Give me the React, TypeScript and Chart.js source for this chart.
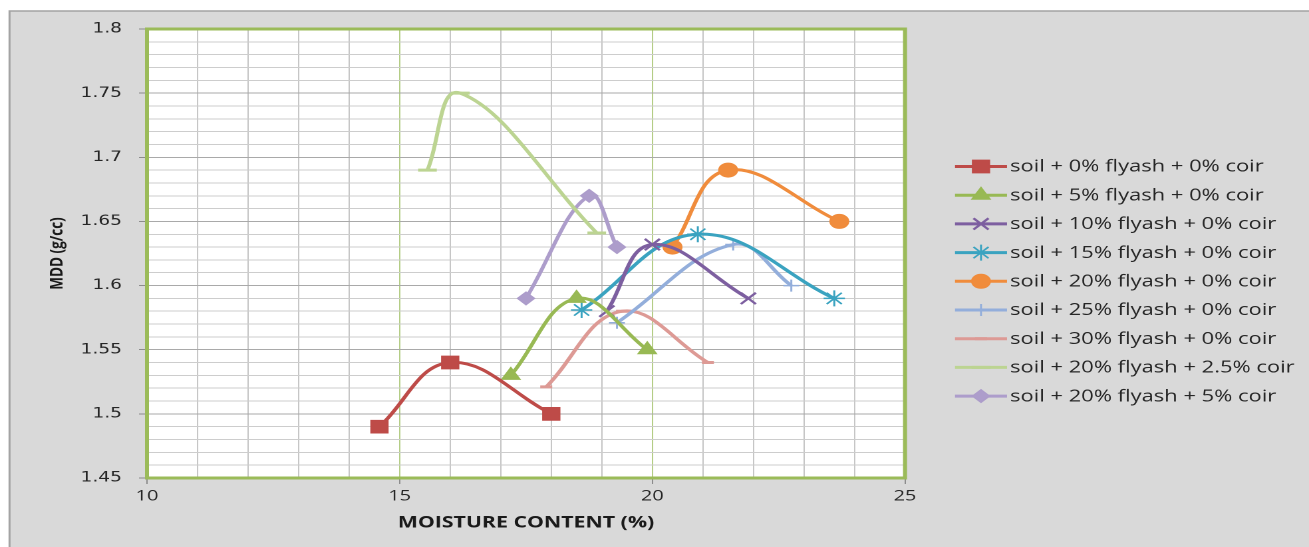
import React, { useEffect, useRef } from 'react';
import { Chart, registerables } from 'chart.js';
import { drawPoint } from 'chart.js/helpers';

Chart.register(...registerables);

// ---------------- data ----------------
const seriesLabels = [
  'soil + 0% flyash + 0% coir',
  'soil + 5% flyash + 0% coir',
  'soil + 10% flyash + 0% coir',
  'soil + 15% flyash + 0% coir',
  'soil + 20% flyash + 0% coir',
  'soil + 25% flyash + 0% coir',
  'soil + 30% flyash + 0% coir',
  'soil + 20% flyash + 2.5% coir',
  'soil + 20% flyash + 5% coir',
];

const fa0x = [14.6, 16.0, 18.0];
const fa0y = [1.49, 1.54, 1.5];
const fa5x = [17.2, 18.5, 19.9];
const fa5y = [1.53, 1.59, 1.55];
const fa10x = [19.1, 20.0, 21.9];
const fa10y = [1.58, 1.632, 1.59];
const fa15x = [18.6, 20.9, 23.6];
const fa15y = [1.581, 1.64, 1.59];
const fa20x = [20.4, 21.5, 23.7];
const fa20y = [1.63, 1.69, 1.65];
const fa25x = [19.3, 21.6, 22.75];
const fa25y = [1.571, 1.632, 1.6];
const fa30x = [17.9, 19.4, 21.1];
const fa30y = [1.521, 1.58, 1.54];
const coir25x = [15.55, 16.2, 18.9];
const coir25y = [1.69, 1.75, 1.641];
const coir5x = [17.5, 18.75, 19.3];
const coir5y = [1.59, 1.67, 1.63];

const seriesX = [fa0x, fa5x, fa10x, fa15x, fa20x, fa25x, fa30x, coir25x, coir5x];
const seriesY = [fa0y, fa5y, fa10y, fa15y, fa20y, fa25y, fa30y, coir25y, coir5y];

const xTickLabels = [10, 15, 20, 25];
const yTickLabels = [1.45, 1.5, 1.55, 1.6, 1.65, 1.7, 1.75, 1.8];
const xTitle = 'MOISTURE CONTENT (%)';
const yTitle = 'MDD (g/cc)';

// ---------------- styles ----------------
const seriesColors = [
  '#be4b48', '#98b954', '#7d5fa0', '#3aa3c0', '#f08c3c',
  '#93aedb', '#dd9a95', '#bcd492', '#ad9dcb',
];
const markerStyles = ['rect', 'triangle', 'crossRot', 'star', 'circle', 'cross', 'line', 'line', 'rectRot'];
const markerRadius = [9, 8, 8, 8, 7, 6, 4.5, 7, 6.5];
const markerBorder = [1, 1, 2, 1.5, 1, 1.5, 3, 3, 1];

const CANVAS_W = 1309;
const CANVAS_H = 547;
const STRETCH = 1.33;
const LOGICAL_W = Math.round(CANVAS_W / STRETCH);
const SX = CANVAS_W / LOGICAL_W;
const ux = (px: number) => px / SX;

const PLOT_LEFT = ux(147);
const PLOT_RIGHT = ux(905);
const PLOT_TOP = 29;
const PLOT_BOTTOM = 478;

const isMajor = (v: number, list: number[]) => list.some((t) => Math.abs(t - v) < 1e-6);

const decorPlugin = {
  id: 'decor',
  beforeDraw(chart: any) {
    const { ctx } = chart;
    ctx.save();
    ctx.fillStyle = '#ffffff';
    ctx.fillRect(0, 0, chart.width, chart.height);
    const fx = ux(9.5);
    const fy = 11;
    ctx.fillStyle = '#d9d9d9';
    ctx.fillRect(fx, fy, chart.width, chart.height);
    ctx.strokeStyle = '#a3a3a3';
    ctx.lineWidth = 1.5;
    ctx.beginPath();
    ctx.moveTo(fx, chart.height);
    ctx.lineTo(fx, fy);
    ctx.lineTo(chart.width, fy);
    ctx.stroke();
    const a = chart.chartArea;
    ctx.fillStyle = '#ffffff';
    ctx.fillRect(a.left, a.top, a.right - a.left, a.bottom - a.top);
    ctx.restore();
  },
  beforeDatasetsDraw(chart: any) {
    const { ctx } = chart;
    const a = chart.chartArea;
    ctx.save();
    ctx.strokeStyle = '#9bbb59';
    ctx.lineWidth = 3;
    ctx.strokeRect(a.left, a.top, a.right - a.left, a.bottom - a.top);
    ctx.restore();
  },
  afterDraw(chart: any) {
    const { ctx } = chart;
    ctx.save();
    const x0 = ux(955);
    const x1 = ux(1007);
    const xm = (x0 + x1) / 2;
    const tx = ux(1010);
    chart.data.datasets.forEach((ds: any, i: number) => {
      const y = 166.5 + i * 28.7;
      ctx.strokeStyle = ds.borderColor;
      ctx.lineWidth = 3;
      ctx.beginPath();
      ctx.moveTo(x0, y);
      ctx.lineTo(x1, y);
      ctx.stroke();
      ctx.fillStyle = ds.pointBackgroundColor;
      ctx.strokeStyle = ds.pointBorderColor;
      ctx.lineWidth = ds.pointBorderWidth;
      drawPoint(ctx, {
        pointStyle: ds.pointStyle,
        radius: ds.pointRadius,
        rotation: 0,
        borderWidth: ds.pointBorderWidth,
      } as any, xm, y);
      ctx.fillStyle = '#262626';
      ctx.font = "16.5px 'Open Sans', sans-serif";
      ctx.textAlign = 'left';
      ctx.textBaseline = 'middle';
      ctx.fillText(ds.label, tx, y + 0.5);
    });
    ctx.restore();
  },
};

export default function App() {
  const ref = useRef<HTMLCanvasElement>(null);

  useEffect(() => {
    const canvas = ref.current;
    if (!canvas) return;
    const datasets = seriesLabels.map((label, i) => ({
      label,
      data: seriesX[i].map((x, j) => ({ x, y: seriesY[i][j] })),
      showLine: true,
      tension: 0.4,
      borderColor: seriesColors[i],
      backgroundColor: seriesColors[i],
      borderWidth: 3,
      pointStyle: markerStyles[i],
      pointRadius: markerRadius[i],
      pointHoverRadius: markerRadius[i],
      pointBackgroundColor: seriesColors[i],
      pointBorderColor: seriesColors[i],
      pointBorderWidth: markerBorder[i],
    }));

    const chart = new Chart(canvas, {
      type: 'scatter',
      data: { datasets } as any,
      options: {
        animation: false,
        responsive: false,
        devicePixelRatio: 2,
        events: [],
        layout: {
          padding: { left: 0, top: PLOT_TOP, right: LOGICAL_W - PLOT_RIGHT, bottom: 0 },
        },
        plugins: {
          legend: { display: false },
          tooltip: { enabled: false },
        },
        scales: {
          x: {
            type: 'linear',
            min: 10,
            max: 25,
            afterFit: (s: any) => {
              s.height = CANVAS_H - PLOT_BOTTOM;
            },
            border: { display: false },
            grid: {
              color: (c: any) => (c.tick && c.tick.value % 5 === 0 ? '#b4cd86' : '#c6c6c6'),
              lineWidth: 1,
              tickLength: 6,
              tickColor: (c: any) => (c.tick && isMajor(c.tick.value, xTickLabels) ? '#8c8c8c' : 'rgba(0,0,0,0)'),
            },
            ticks: {
              stepSize: 1,
              autoSkip: false,
              maxRotation: 0,
              padding: 3,
              color: '#262626',
              font: { family: "'Open Sans', sans-serif", size: 15 },
              callback: (v: any) => (isMajor(Number(v), xTickLabels) ? String(Number(v)) : ''),
            },
            title: {
              display: true,
              text: xTitle,
              color: '#1a1a1a',
              font: { family: "'Open Sans', sans-serif", size: 16, weight: 'bold' },
              padding: { top: 0, bottom: 14.4 },
            },
          },
          y: {
            type: 'linear',
            min: 1.45,
            max: 1.8,
            afterFit: (s: any) => {
              s.width = PLOT_LEFT;
            },
            border: { display: false },
            grid: {
              color: (c: any) => (c.tick && isMajor(c.tick.value, yTickLabels) ? '#a9a9a9' : '#cdcdcd'),
              lineWidth: 1,
              tickLength: 6,
              tickColor: (c: any) => (c.tick && isMajor(c.tick.value, yTickLabels) ? '#8c8c8c' : 'rgba(0,0,0,0)'),
            },
            ticks: {
              stepSize: 0.01,
              autoSkip: false,
              maxTicksLimit: 100,
              padding: 12.8,
              color: '#262626',
              font: { family: "'DejaVu Sans', sans-serif", size: 14 },
              callback: (v: any) => {
                const r = Math.round(Number(v) * 100) / 100;
                return isMajor(r, yTickLabels) ? String(r) : '';
              },
            },
            title: {
              display: true,
              text: yTitle,
              color: '#1a1a1a',
              font: { family: "'Open Sans', sans-serif", size: 13.5, weight: 'bold' },
              padding: { top: 35.3, bottom: 0 },
            },
          },
        },
      } as any,
      plugins: [decorPlugin],
    });
    return () => chart.destroy();
  }, []);

  return (
    <div
      style={{
        position: 'fixed',
        left: 0,
        top: 0,
        width: CANVAS_W,
        height: CANVAS_H,
        overflow: 'hidden',
        background: '#ffffff',
      }}
    >
      <canvas
        ref={ref}
        width={LOGICAL_W}
        height={CANVAS_H}
        style={{ display: 'block', width: `${CANVAS_W}px`, height: `${CANVAS_H}px` }}
      />
    </div>
  );
}
